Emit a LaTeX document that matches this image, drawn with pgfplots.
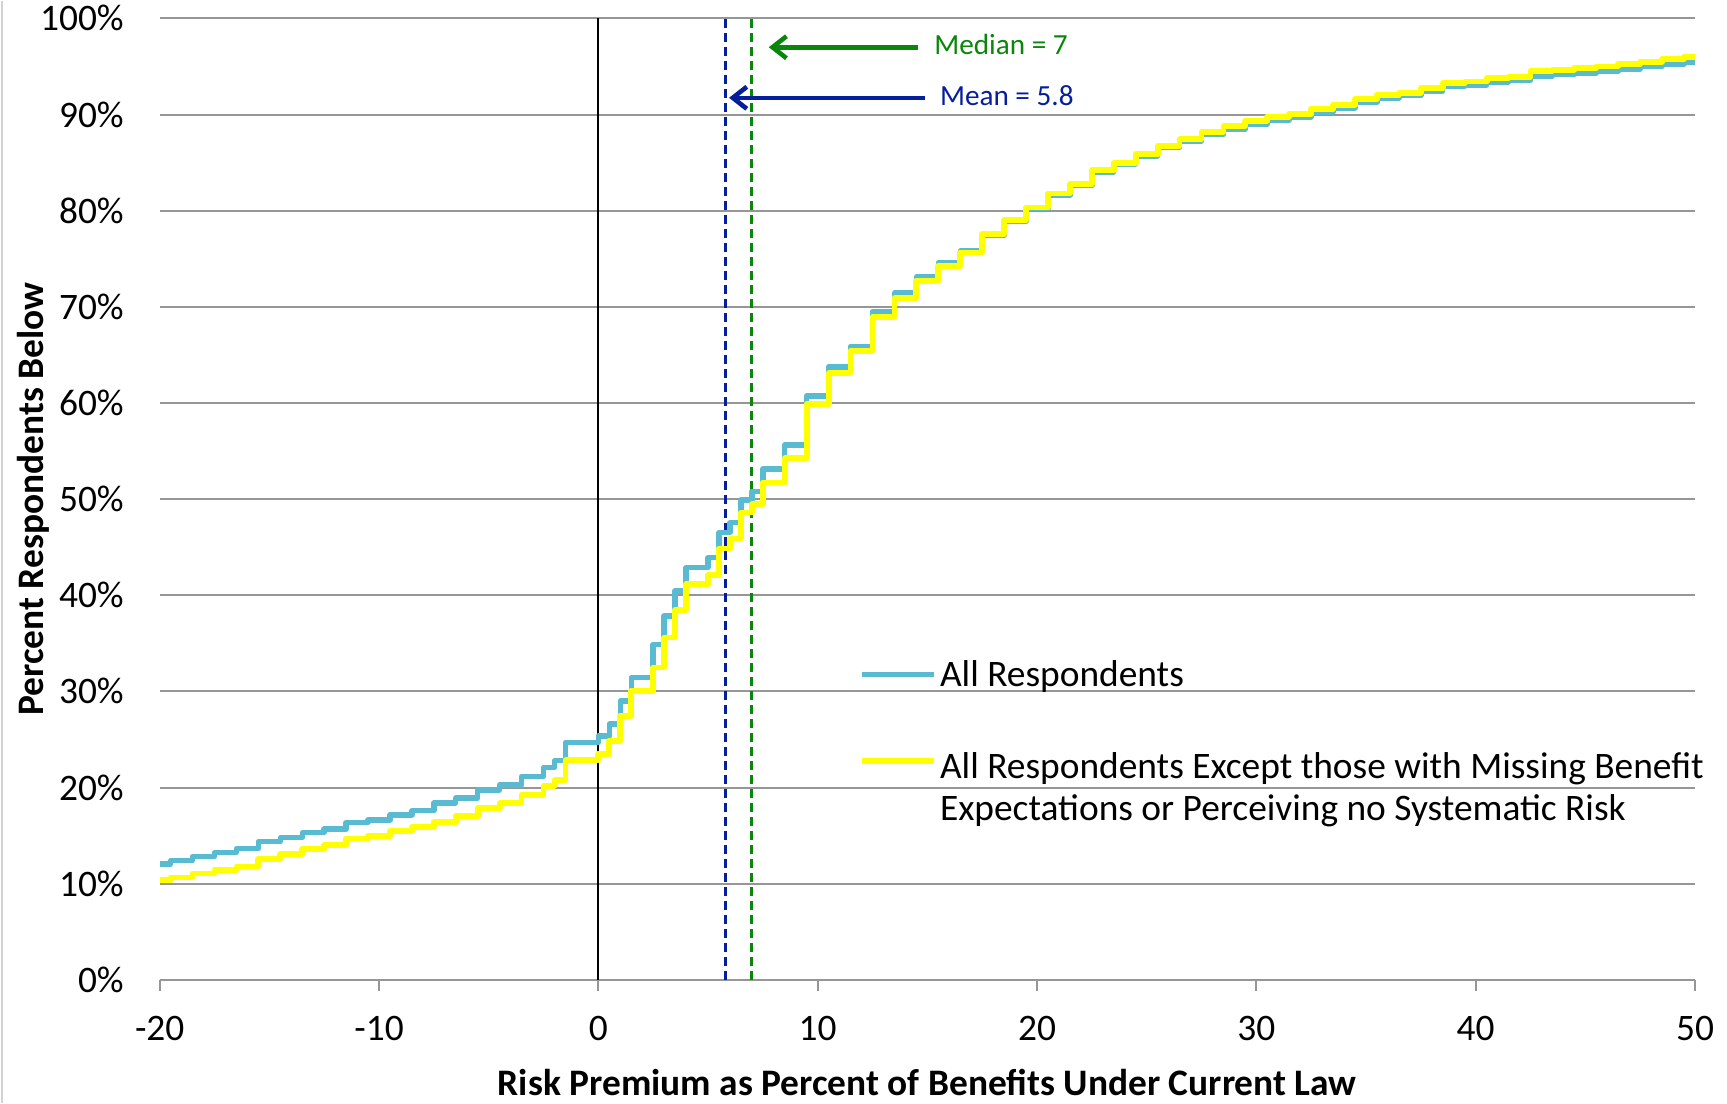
\documentclass[border=0pt]{standalone}
\usepackage{fontspec}
\setmainfont{Carlito}
\usepackage{pgfplots}
\pgfplotsset{compat=1.18}
\usetikzlibrary{arrows.meta}
\definecolor{gridgray}{RGB}{150,150,150}
\definecolor{cyanline}{RGB}{88,187,210}
\definecolor{yel}{RGB}{255,255,0}
\definecolor{meanblue}{RGB}{5,30,155}
\definecolor{medgreen}{RGB}{10,135,10}
\newcommand{\bigf}{\fontsize{18.7}{22}\selectfont}
\newcommand{\smallf}{\fontsize{14.6}{17}\selectfont}
\begin{document}
\begin{tikzpicture}
\begin{axis}[
  name=ax, at={(0,0)}, anchor=south west,
  scale only axis, width=767.65pt, height=480.7pt,
  xmin=-20, xmax=50, ymin=0, ymax=100,
  axis x line=bottom, axis y line=left,
  axis line style={-},
  y axis line style={draw=none},
  x axis line style={draw=gridgray, line width=1pt},
  ymajorgrids, grid style={gridgray, line width=1pt},
  xtick={-20,-10,...,50},
  ytick={0,10,...,100},
  yticklabels={0\%,10\%,20\%,30\%,40\%,50\%,60\%,70\%,80\%,90\%,100\%},
  ytick style={draw=none},
  xtick style={draw=gridgray, line width=1pt},
  tick align=outside, major tick length=5.5pt,
  /pgf/number format/assume math mode=true,
  ticklabel style={font=\bigf, text=black},
  xticklabel style={anchor=center, yshift=-18.8pt},
  yticklabel style={anchor=east, inner sep=0pt, xshift=-12.3pt},
  xlabel={\textbf{Risk Premium as Percent of Benefits Under Current Law}},
  ylabel={\textbf{Percent Respondents Below}},
  label style={font=\bigf},
  xlabel style={at={(axis description cs:0.5,-0.1067)}, anchor=center},
  ylabel style={at={(axis description cs:-0.0825,0.5)}, anchor=center},
  clip=false,
]
% reference vertical lines
\addplot[black, line width=1pt, forget plot] coordinates {(0,0) (0,100)};
\addplot[meanblue, line width=1.5pt, dash pattern=on 4.5pt off 2.5pt, forget plot] coordinates {(5.8,0) (5.8,100)};
\addplot[medgreen, line width=1.5pt, dash pattern=on 4.5pt off 2.5pt, forget plot] coordinates {(7,0) (7,100)};

% All Respondents
\addplot[const plot, cyanline, line width=2.7pt, line join=round] coordinates {
(-20,12.03) (-19.5,12.38) (-18.5,12.83) (-17.5,13.25) (-16.5,13.67) (-15.5,14.4)
(-14.5,14.8) (-13.5,15.3) (-12.5,15.67) (-11.5,16.36) (-10.5,16.64) (-9.5,17.16)
(-8.5,17.58) (-7.5,18.4) (-6.5,18.9) (-5.5,19.76) (-4.5,20.28) (-3.5,21.15)
(-2.5,22.08) (-2,22.78) (-1.5,24.7) (0,25.38) (0.5,26.6) (1,29.0) (1.5,31.44)
(2.5,34.9) (3,37.86) (3.5,40.46) (4,42.88) (5,43.92) (5.5,46.52) (6,47.56)
(6.5,49.92) (7,50.79) (7.5,53.12) (8.5,55.61) (9.5,60.74) (10.5,63.76)
(11.5,65.87) (12.5,69.5) (13.5,71.42) (14.5,73.11) (15.5,74.6) (16.5,75.82)
(17.5,77.4) (18.5,78.9) (19.5,80.2) (20.5,81.6) (21.5,82.6) (22.5,84.0)
(23.5,84.85) (24.5,85.7) (25.5,86.55) (26.5,87.25) (27.5,87.9) (28.5,88.5)
(29.5,89.0) (30.5,89.45) (31.5,89.75) (32.5,90.25) (33.5,90.7) (34.5,91.25)
(35.5,91.7) (36.5,91.95) (37.5,92.4) (38.5,92.9) (39.5,93.05) (40.5,93.4)
(41.5,93.55) (42.5,94.0) (43.5,94.15) (44.5,94.3) (45.5,94.5) (46.5,94.75)
(47.5,95.0) (48.5,95.25) (49.5,95.45) (50,95.45)
};
% All Respondents Except ...
\addplot[const plot, yel, line width=2.9pt, line join=round] coordinates {
(-20,10.37) (-19.5,10.64) (-18.5,11.06) (-17.5,11.44) (-16.5,11.79) (-15.5,12.55)
(-14.5,13.07) (-13.5,13.59) (-12.5,14.0) (-11.5,14.7) (-10.5,14.98) (-9.5,15.5)
(-8.5,15.9) (-7.5,16.4) (-6.5,17.06) (-5.5,17.86) (-4.5,18.38) (-3.5,19.24)
(-2.5,20.18) (-2,20.77) (-1.5,22.85) (0,23.47) (0.5,24.86) (1,27.46) (1.5,30.06)
(2.5,32.48) (3,35.6) (3.5,38.45) (4,41.16) (5,42.12) (5.5,44.86) (6,45.9)
(6.5,48.6) (7,49.47) (7.5,51.72) (8.5,54.26) (9.5,59.9) (10.5,63.1)
(11.5,65.42) (12.5,68.96) (13.5,70.9) (14.5,72.7) (15.5,74.26) (16.5,75.65)
(17.5,77.56) (18.5,79.05) (19.5,80.33) (20.5,81.78) (21.5,82.76) (22.5,84.2)
(23.5,85.0) (24.5,85.88) (25.5,86.74) (26.5,87.43) (27.5,88.2) (28.5,88.82)
(29.5,89.34) (30.5,89.76) (31.5,90.04) (32.5,90.56) (33.5,91.0) (34.5,91.6)
(35.5,92.04) (36.5,92.28) (37.5,92.74) (38.5,93.29) (39.5,93.43) (40.5,93.78)
(41.5,93.92) (42.5,94.54) (43.5,94.65) (44.5,94.8) (45.5,95.0) (46.5,95.24)
(47.5,95.5) (48.5,95.76) (49.5,96.0) (50,96.0)
};

% legend samples
\addplot[cyanline, line width=2.7pt, forget plot] coordinates {(12.03,31.75) (15.3,31.75)};
\addplot[yel, line width=2.9pt, forget plot] coordinates {(12.03,22.78) (15.3,22.78)};
\node[anchor=base west, inner sep=0pt, font=\bigf] at (axis cs:15.56,30.5) {All Respondents};
\node[anchor=base west, inner sep=0pt, font=\bigf] at (axis cs:15.56,20.96) {All Respondents Except those with Missing Benefit};
\node[anchor=base west, inner sep=0pt, font=\bigf] at (axis cs:15.56,16.62) {Expectations or Perceiving no Systematic Risk};

% annotations
\draw[medgreen, line width=2.3pt, -{Straight Barb[length=7pt,width=11pt]}] (axis cs:14.56,97.0) -- (axis cs:7.77,97.0);
\node[anchor=west, inner sep=0pt, font=\smallf, text=medgreen] at (axis cs:15.3,97.25) {Median = 7};
\draw[meanblue, line width=2.3pt, -{Straight Barb[length=7pt,width=11pt]}] (axis cs:14.9,91.74) -- (axis cs:5.96,91.74);
\node[anchor=west, inner sep=0pt, font=\smallf, text=meanblue] at (axis cs:15.56,91.95) {Mean = 5.8};
\end{axis}
\pgfresetboundingbox
\draw[gray!35, line width=0.8pt] (-78.9pt,-61.5pt) -- (-78.9pt,489.5pt);
\path[use as bounding box] (-79.85pt,-61.5pt) rectangle (783.65pt,489.5pt);
\end{tikzpicture}
\end{document}
